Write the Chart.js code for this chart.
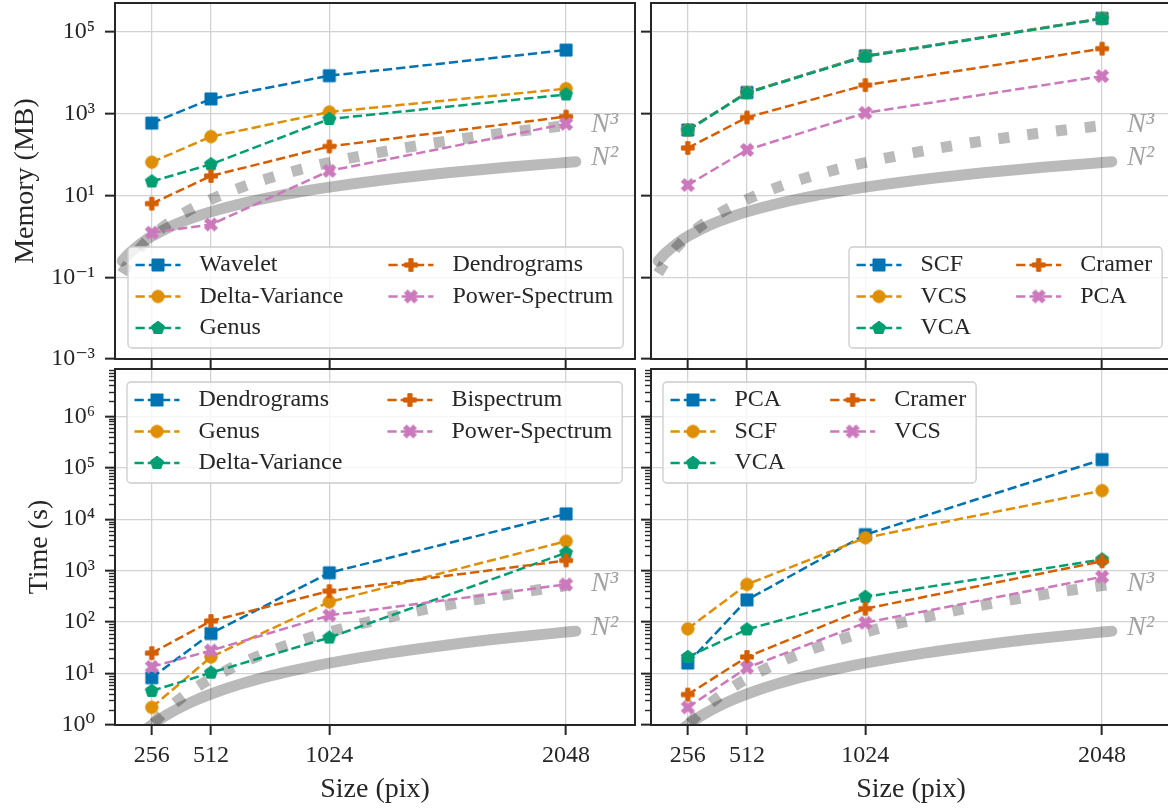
<!DOCTYPE html>
<html>
<head>
<meta charset="utf-8">
<script src="https://cdn.jsdelivr.net/npm/chart.js@4.4.1/dist/chart.umd.min.js"></script>
<style>
  html, body { margin: 0; padding: 0; background: #fff; overflow: hidden; width: 1168px; height: 808px; }
  .panel { position: absolute; }
</style>
</head>
<body>
<div class="panel" style="left:0;top:360px;width:645px;height:448px"><canvas id="c2"></canvas></div>
<div class="panel" style="left:640px;top:360px;width:545px;height:448px"><canvas id="c3"></canvas></div>
<div class="panel" style="left:0;top:0;width:645px;height:375px"><canvas id="c0"></canvas></div>
<div class="panel" style="left:640px;top:0;width:545px;height:375px"><canvas id="c1"></canvas></div>
<script>
// x positions and tick labels
const sizes = [256, 512, 1024, 2048];
const xTicks = [256, 512, 1024, 2048];

// reference scaling curves N^2 and N^3
const refSizes = [128, 160, 192, 224, 256, 320, 384, 448, 512, 640, 768, 896, 1024, 1280, 1536, 1792, 2048, 2090];
const refN2 = [0.25, 0.39, 0.56, 0.77, 1, 1.56, 2.25, 3.06, 4, 6.25, 9, 12.25, 16, 25, 36, 49, 64, 66.7];
const refN3 = [0.125, 0.244, 0.42, 0.67, 1, 1.95, 3.38, 5.36, 8, 15.6, 27, 42.9, 64, 125, 216, 343, 512, 544];

// memory (MB), left panel
const memLeftNames = ['Wavelet', 'Delta-Variance', 'Genus', 'Dendrograms', 'Power-Spectrum'];
const memWavelet = [590, 2300, 8500, 36000];
const memDeltaVar = [65, 275, 1100, 4100];
const memGenus = [22, 58, 740, 2950];
const memDendro = [6.3, 30, 158, 850];
const memPowerSpec = [1.23, 1.95, 40, 565];

// memory (MB), right panel
const memRightNames = ['SCF', 'VCS', 'VCA', 'Cramer', 'PCA'];
const memSCF = [400, 3300, 26000, 215000];
const memVCS = [395, 3250, 25500, 212000];
const memVCA = [390, 3200, 25000, 210000];
const memCramer = [145, 810, 5000, 39000];
const memPCA = [18, 130, 1050, 8300];

// time (s), left panel
const timeLeftNames = ['Dendrograms', 'Genus', 'Delta-Variance', 'Bispectrum', 'Power-Spectrum'];
const timeDendro = [8.3, 60, 910, 12700];
const timeGenus = [2.2, 21, 247, 3730];
const timeDeltaVar = [4.6, 10.4, 50, 2230];
const timeBispec = [25, 105, 400, 1580];
const timePowerSpec = [13.5, 28, 135, 540];

// time (s), right panel
const timeRightNames = ['PCA', 'SCF', 'VCA', 'Cramer', 'VCS'];
const timePCA = [16, 270, 5000, 144000];
const timeSCF = [74, 540, 4350, 36000];
const timeVCA = [21, 72, 310, 1650];
const timeCramer = [3.9, 21, 182, 1520];
const timeVCS = [2.2, 13, 97, 760];

const memMajor = [1e-3, 1e-1, 1e1, 1e3, 1e5];
const timeMajor = [1, 1e1, 1e2, 1e3, 1e4, 1e5, 1e6];

const INK = '#262626';
const GRID = '#d2d2d2';
const REF = 'rgba(0,0,0,0.27)';
const NTEXT = '#a3a3a3';
const FONT = '"Liberation Serif", "DejaVu Serif", serif';
const palette = ['#0173b2', '#de8f05', '#029e73', '#d55e00', '#cc78bc'];
const shapes = ['s', 'o', 'p', 'P', 'X'];

Chart.defaults.font.family = FONT;
Chart.defaults.font.size = 24;
Chart.defaults.color = INK;

function makeMarker(shape, color) {
  const c = document.createElement('canvas');
  c.width = 18; c.height = 18;
  const g = c.getContext('2d');
  g.fillStyle = color; g.strokeStyle = color; g.lineWidth = 1;
  g.translate(9, 9);
  g.beginPath();
  if (shape === 's') {
    g.rect(-6, -6, 12, 12);
  } else if (shape === 'o') {
    g.arc(0, 0, 6.2, 0, Math.PI * 2);
  } else if (shape === 'p') {
    for (let k = 0; k < 5; k++) {
      const t = -Math.PI / 2 + k * 2 * Math.PI / 5;
      if (k === 0) g.moveTo(6.8 * Math.cos(t), 6.8 * Math.sin(t));
      else g.lineTo(6.8 * Math.cos(t), 6.8 * Math.sin(t));
    }
    g.closePath();
  } else {
    const h = shape === 'P' ? 6.3 : 6.8, w = shape === 'P' ? 2.1 : 2.2;
    if (shape === 'X') g.rotate(Math.PI / 4);
    const pts = [[-w,-h],[w,-h],[w,-w],[h,-w],[h,w],[w,w],[w,h],[-w,h],[-w,w],[-h,w],[-h,-w],[-w,-w]];
    pts.forEach((q, k) => k ? g.lineTo(q[0], q[1]) : g.moveTo(q[0], q[1]));
    g.closePath();
  }
  g.fill(); g.stroke();
  return c;
}
const markers = shapes.map((s, i) => makeMarker(s, palette[i]));

const supMap = {'-': '\u207B', '0': '\u2070', '1': '\u00B9', '2': '\u00B2', '3': '\u00B3',
  '4': '\u2074', '5': '\u2075', '6': '\u2076', '7': '\u2077', '8': '\u2078', '9': '\u2079'};
function powLabel(v) {
  const e = Math.round(Math.log10(v));
  return '10' + String(e).split('').map(c => supMap[c]).join('');
}

function drawLegend(ctx, a, p) {
  const bx = a.left + p.legend.dx, by = a.top + p.legend.dy;
  ctx.font = '24px ' + FONT;
  const w1 = Math.max(...[0, 1, 2].map(i => ctx.measureText(p.names[i]).width));
  const w2 = Math.max(...[3, 4].map(i => ctx.measureText(p.names[i]).width));
  const h1 = bx + 7.5;
  const h2 = h1 + 64 + w1 + 45;
  const bw = h2 + 64 + w2 + 10 - bx;
  const bh = 101;
  ctx.beginPath();
  if (ctx.roundRect) ctx.roundRect(bx, by, bw, bh, 4); else ctx.rect(bx, by, bw, bh);
  ctx.fillStyle = 'rgba(255,255,255,0.8)';
  ctx.fill();
  ctx.strokeStyle = '#cccccc';
  ctx.lineWidth = 1.3;
  ctx.stroke();
  p.names.forEach((name, i) => {
    const hx = i < 3 ? h1 : h2;
    const ry = by + 18 + (i % 3) * 31.5;
    ctx.save();
    ctx.strokeStyle = palette[i];
    ctx.lineWidth = 2.5;
    ctx.setLineDash([9.25, 4]);
    ctx.beginPath(); ctx.moveTo(hx, ry); ctx.lineTo(hx + 45, ry); ctx.stroke();
    ctx.restore();
    ctx.drawImage(markers[i], hx + 22.5 - 9, ry - 9);
    ctx.fillStyle = INK;
    ctx.textAlign = 'left';
    ctx.textBaseline = 'middle';
    ctx.fillText(name, hx + 64, ry);
  });
}

function decorations(p) {
  return {
    id: 'decor',
    afterDatasetsDraw(chart) {
      const ctx = chart.ctx, a = chart.chartArea;
      const xs = chart.scales.x, ys = chart.scales.y;
      ctx.save();
      if (p.minor) {
        ctx.strokeStyle = INK; ctx.lineWidth = 1.4;
        for (let k = Math.floor(Math.log10(p.yMin)); k <= Math.ceil(Math.log10(p.yMax)); k++) {
          for (let m = 2; m <= 9; m++) {
            const v = m * Math.pow(10, k);
            if (v < p.yMin || v > p.yMax) continue;
            const py = Math.round(ys.getPixelForValue(v)) + 0.5;
            ctx.beginPath(); ctx.moveTo(a.left - 6, py); ctx.lineTo(a.left, py); ctx.stroke();
          }
        }
      }
      ctx.fillStyle = NTEXT;
      ctx.font = 'italic 28px ' + FONT;
      ctx.textAlign = 'left';
      ctx.textBaseline = 'alphabetic';
      const lx = xs.getPixelForValue(sizes[sizes.length - 1]) + 25;
      ctx.fillText('N\u00B3', lx, ys.getPixelForValue(refN3[refN3.length - 1]) + 7);
      ctx.fillText('N\u00B2', lx, ys.getPixelForValue(refN2[refN2.length - 1]) + 3.5);
      ctx.strokeStyle = INK; ctx.lineWidth = 2;
      ctx.strokeRect(a.left, a.top, a.right - a.left, a.bottom - a.top);
      drawLegend(ctx, a, p);
      ctx.restore();
    }
  };
}

function zeroPad(s) {
  s.paddingTop = 0; s.paddingBottom = 0; s.paddingLeft = 0; s.paddingRight = 0;
}

function makeChart(p) {
  const datasets = [
    { data: refSizes.map((x, i) => ({x, y: refN2[i]})), borderColor: REF, borderWidth: 11,
      borderCapStyle: 'round', pointRadius: 0, cubicInterpolationMode: 'monotone', clip: 0, order: 10 },
    { data: refSizes.map((x, i) => ({x, y: refN3[i]})), borderColor: REF, borderWidth: 11,
      borderDash: [11, 18], borderCapStyle: 'butt', pointRadius: 0, cubicInterpolationMode: 'monotone', clip: 0, order: 11 }
  ];
  p.series.forEach((vals, i) => {
    datasets.push({
      label: p.names[i],
      data: sizes.map((x, j) => ({x, y: vals[j]})),
      borderColor: palette[i], backgroundColor: palette[i],
      borderWidth: 2.5, borderDash: [9.25, 4], tension: 0,
      pointStyle: markers[i], pointRadius: 7, pointHoverRadius: 7,
      order: -i
    });
  });
  new Chart(document.getElementById(p.id), {
    type: 'line',
    data: { datasets },
    options: {
      responsive: true, maintainAspectRatio: false, animation: false, events: [],
      layout: { autoPadding: false, padding: { top: p.padTop, right: p.padRight, left: 0, bottom: 0 } },
      plugins: { legend: { display: false }, tooltip: { enabled: false } },
      scales: {
        x: {
          type: 'linear', min: 97, max: 2346, bounds: 'data',
          afterBuildTicks: s => { s.ticks = xTicks.map(v => ({value: v})); },
          afterFit: s => { s.height = p.xh; zeroPad(s); },
          grid: { color: GRID, lineWidth: 1.3, tickLength: 10, tickColor: INK, tickWidth: 2 },
          border: { display: false },
          ticks: { display: p.xLabels, autoSkip: false, maxRotation: 0, padding: 6, color: INK,
                   font: { size: 24 }, callback: v => String(v) },
          title: { display: p.xLabels, text: 'Size (pix)', color: INK, font: { size: 28 },
                   padding: { top: 0, bottom: 2 } }
        },
        y: {
          type: 'logarithmic', min: p.yMin, max: p.yMax, bounds: 'data',
          afterBuildTicks: s => { s.ticks = p.major.map(v => ({value: v})); },
          afterFit: s => { s.width = p.yw; zeroPad(s); },
          grid: { color: GRID, lineWidth: 1.3, tickLength: 10, tickColor: INK, tickWidth: 2 },
          border: { display: false },
          ticks: { display: p.yLabels, autoSkip: false, padding: 10, color: INK,
                   font: { size: 24 }, callback: v => powLabel(v) },
          title: { display: p.yLabels, text: p.yTitle, color: INK, font: { size: 28 },
                   padding: { top: p.titlePad, bottom: 0 } }
        }
      }
    },
    plugins: [decorations(p)]
  });
}

makeChart({ id: 'c0', names: memLeftNames,
  series: [memWavelet, memDeltaVar, memGenus, memDendro, memPowerSpec],
  yMin: 1e-3, yMax: 5.1e5, major: memMajor, minor: false, yTitle: 'Memory (MB)',
  yLabels: true, xLabels: false, padTop: 3, padRight: 10, yw: 115, xh: 16, titlePad: 9,
  legend: { dx: 13, dy: 244 } });
makeChart({ id: 'c1', names: memRightNames,
  series: [memSCF, memVCS, memVCA, memCramer, memPCA],
  yMin: 1e-3, yMax: 5.1e5, major: memMajor, minor: false, yTitle: '',
  yLabels: false, xLabels: false, padTop: 3, padRight: 14, yw: 11, xh: 16, titlePad: 0,
  legend: { dx: 198, dy: 244 } });
makeChart({ id: 'c2', names: timeLeftNames,
  series: [timeDendro, timeGenus, timeDeltaVar, timeBispec, timePowerSpec],
  yMin: 1, yMax: 8.3e6, major: timeMajor, minor: true, yTitle: 'Time (s)',
  yLabels: true, xLabels: true, padTop: 9, padRight: 10, yw: 115, xh: 83, titlePad: 23,
  legend: { dx: 12, dy: 13 } });
makeChart({ id: 'c3', names: timeRightNames,
  series: [timePCA, timeSCF, timeVCA, timeCramer, timeVCS],
  yMin: 1, yMax: 8.3e6, major: timeMajor, minor: true, yTitle: '',
  yLabels: false, xLabels: true, padTop: 9, padRight: 14, yw: 11, xh: 83, titlePad: 0,
  legend: { dx: 12, dy: 13 } });
</script>
</body>
</html>
